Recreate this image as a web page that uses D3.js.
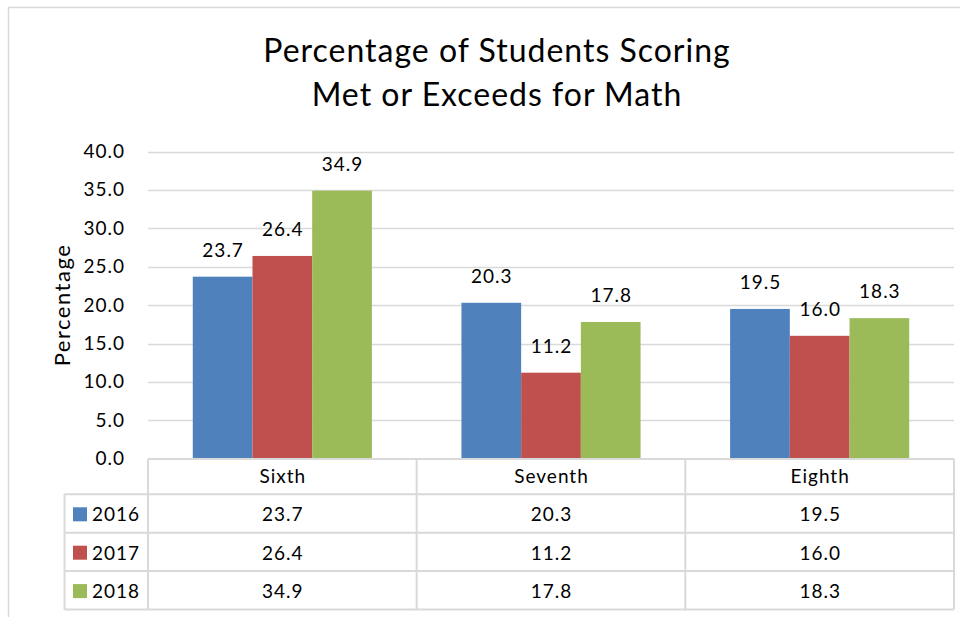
<!DOCTYPE html>
<html>
<head>
<meta charset="utf-8">
<script src="https://cdn.jsdelivr.net/npm/d3@7"></script>
<style>
  body { margin: 0; background: #fff; }
  svg { display: block; font-family: Lato, "Open Sans", sans-serif; }
  .lbl { letter-spacing: 1px; }
</style>
</head>
<body>
<svg id="chart" width="970" height="617"></svg>
<script>
const grades = ["Sixth", "Seventh", "Eighth"];
const years = ["2016", "2017", "2018"];
const values2016 = [23.7, 20.3, 19.5];
const values2017 = [26.4, 11.2, 16.0];
const values2018 = [34.9, 17.8, 18.3];
const yTicks = [0, 5, 10, 15, 20, 25, 30, 35, 40];
const colors = ["#4F81BD", "#C0504D", "#9BBB59"];

const seriesValues = [values2016, values2017, values2018];
const rows = years.map((y, i) => ({ year: y, color: colors[i], values: seriesValues[i] }));

const svg = d3.select("#chart");
const plot = { left: 148, right: 954, top: 151.5, bottom: 458.7 };
const gridColor = "#d9d9d9";
const fmt = d3.format(".1f");
const fs = 19;

// outer frame (top and left edges visible)
svg.append("path")
  .attr("d", "M8.5,617 L8.5,7.5 L960,7.5")
  .attr("fill", "none")
  .attr("stroke", gridColor)
  .attr("stroke-width", 1.5);

// title
const title = svg.append("text")
  .attr("text-anchor", "middle")
  .attr("font-size", 32)
  .style("letter-spacing", "1px")
  .attr("fill", "#000");
title.append("tspan").attr("x", 497).attr("y", 62).text("Percentage of Students Scoring");
title.append("tspan").attr("x", 497).attr("y", 106).text("Met or Exceeds for Math");

const x0 = d3.scaleBand().domain(grades).range([plot.left, plot.right]);
const x1 = d3.scaleBand().domain(years).range([0, x0.bandwidth()]).paddingOuter(0.75);
const y = d3.scaleLinear().domain([0, 40]).range([plot.bottom, plot.top]);

// gridlines
svg.append("g")
  .selectAll("line")
  .data(yTicks.filter(d => d > 0))
  .enter()
  .append("line")
  .attr("x1", plot.left)
  .attr("x2", plot.right)
  .attr("y1", d => Math.round(y(d)) + 0.5)
  .attr("y2", d => Math.round(y(d)) + 0.5)
  .attr("stroke", gridColor)
  .attr("stroke-width", 1.5);

// y axis labels
const yAxis = d3.axisLeft(y).tickValues(yTicks).tickFormat(fmt).tickSize(0).tickPadding(23);
const yg = svg.append("g").attr("transform", "translate(" + plot.left + ",0)").call(yAxis);
yg.select(".domain").remove();
yg.selectAll("text")
  .attr("class", "lbl")
  .attr("font-size", fs)
  .attr("fill", "#000")
  .attr("font-family", "Lato, sans-serif");

svg.append("text")
  .attr("transform", "translate(70,305) rotate(-90)")
  .attr("text-anchor", "middle")
  .attr("font-size", 22)
  .style("letter-spacing", "1.5px")
  .text("Percentage");

// bars
const groups = svg.append("g")
  .selectAll("g")
  .data(rows)
  .enter()
  .append("g")
  .attr("fill", d => d.color);

groups.selectAll("rect")
  .data(d => d.values.map((v, i) => ({ grade: grades[i], year: d.year, value: v })))
  .enter()
  .append("rect")
  .attr("x", d => x0(d.grade) + x1(d.year))
  .attr("y", d => y(d.value))
  .attr("width", x1.bandwidth())
  .attr("height", d => plot.bottom - y(d.value));

groups.selectAll("text")
  .data(d => d.values.map((v, i) => ({ grade: grades[i], year: d.year, value: v })))
  .enter()
  .append("text")
  .attr("class", "lbl")
  .attr("x", d => x0(d.grade) + x1(d.year) + x1.bandwidth() / 2 + 0.5)
  .attr("y", d => y(d.value) - 20)
  .attr("text-anchor", "middle")
  .attr("font-size", fs)
  .attr("fill", "#000")
  .text(d => fmt(d.value));

// data table
const headerTop = 459;
const headerH = 35.3;
const rowH = 38.4;
const tableLeft = 64.5;
const table = svg.append("g").attr("stroke", gridColor).attr("stroke-width", 2).attr("fill", "none");
const tableBottom = headerTop + headerH + rowH * rows.length;

// horizontal lines
table.append("line").attr("x1", plot.left).attr("x2", plot.right).attr("y1", headerTop).attr("y2", headerTop);
d3.range(rows.length + 1).forEach(i => {
  const yy = headerTop + headerH + rowH * i;
  table.append("line").attr("x1", tableLeft).attr("x2", plot.right).attr("y1", yy).attr("y2", yy);
});
// vertical lines
table.append("line").attr("x1", tableLeft).attr("x2", tableLeft).attr("y1", headerTop + headerH).attr("y2", tableBottom);
grades.forEach(g => {
  table.append("line").attr("x1", x0(g)).attr("x2", x0(g)).attr("y1", headerTop).attr("y2", tableBottom);
});
table.append("line").attr("x1", plot.right).attr("x2", plot.right).attr("y1", headerTop).attr("y2", tableBottom);

// header labels
svg.append("g")
  .selectAll("text")
  .data(grades)
  .enter()
  .append("text")
  .attr("class", "lbl")
  .attr("x", d => x0(d) + x0.bandwidth() / 2 + 0.5)
  .attr("y", headerTop + 24)
  .attr("text-anchor", "middle")
  .attr("font-size", fs)
  .text(d => d);

// rows
const rowG = svg.append("g")
  .selectAll("g")
  .data(rows)
  .enter()
  .append("g")
  .attr("transform", (d, i) => "translate(0," + (headerTop + headerH + rowH * i) + ")");

rowG.append("rect")
  .attr("x", 73)
  .attr("y", 13)
  .attr("width", 14)
  .attr("height", 14)
  .attr("fill", d => d.color);

rowG.append("text")
  .attr("class", "lbl")
  .attr("x", 92)
  .attr("y", 27)
  .attr("font-size", fs)
  .text(d => d.year);

rowG.selectAll(".cell")
  .data(d => d.values.map((v, i) => ({ grade: grades[i], value: v })))
  .enter()
  .append("text")
  .attr("class", "cell lbl")
  .attr("x", d => x0(d.grade) + x0.bandwidth() / 2 + 0.5)
  .attr("y", 27)
  .attr("text-anchor", "middle")
  .attr("font-size", fs)
  .text(d => fmt(d.value));
</script>
</body>
</html>
